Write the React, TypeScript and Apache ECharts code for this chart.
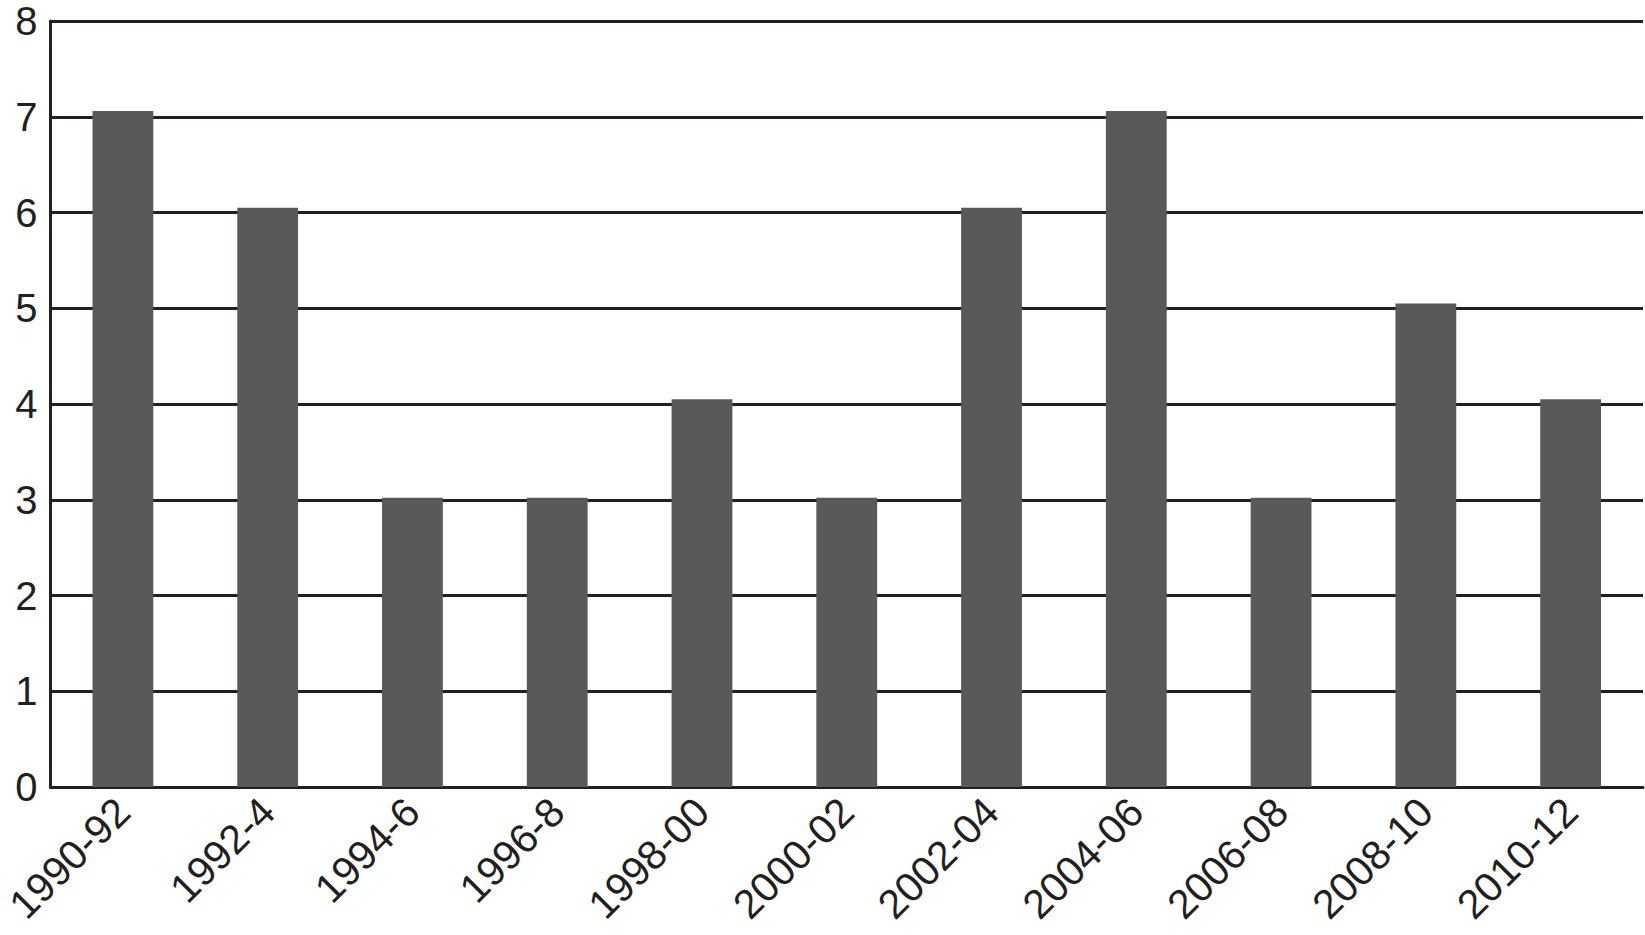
import React, { useEffect, useRef } from "react";
import * as echarts from "echarts";

const categories = [
  "1990-92", "1992-4", "1994-6", "1996-8", "1998-00", "2000-02",
  "2002-04", "2004-06", "2006-08", "2008-10", "2010-12",
];
const values = [7.06, 6.05, 3.02, 3.02, 4.05, 3.02, 6.05, 7.06, 3.02, 5.05, 4.05];
const yTicks = [0, 1, 2, 3, 4, 5, 6, 7, 8];

export default function App() {
  const ref = useRef<HTMLDivElement>(null);
  useEffect(() => {
    if (!ref.current) return;
    const chart = echarts.init(ref.current, null, { renderer: "svg" });
    const font = "'Liberation Sans', Arial, Helvetica, sans-serif";
    chart.setOption({
      animation: false,
      backgroundColor: "#ffffff",
      grid: { left: 48, right: 2, top: 21, bottom: 148, containLabel: false },
      xAxis: {
        type: "category",
        data: categories,
        axisLine: { show: true, lineStyle: { color: "#231f20", width: 3 } },
        axisTick: { show: false },
        axisLabel: {
          rotate: 45,
          margin: 18,
          interval: 0,
          color: "#231f20",
          fontSize: 41,
          fontFamily: font,
        },
      },
      yAxis: {
        type: "value",
        min: yTicks[0],
        max: yTicks[yTicks.length - 1],
        interval: 1,
        axisLine: { show: true, lineStyle: { color: "#231f20", width: 3 } },
        axisTick: { show: false },
        axisLabel: {
          margin: 13,
          color: "#231f20",
          fontSize: 40,
          lineHeight: 32,
          fontFamily: font,
        },
        splitLine: { show: true, lineStyle: { color: "#231f20", width: 3 } },
      },
      series: [
        {
          type: "bar",
          data: values,
          barWidth: "42%",
          itemStyle: { color: "#58595b" },
        },
      ],
    });
    return () => chart.dispose();
  }, []);
  return (
    <div
      ref={ref}
      style={{ position: "fixed", left: 0, top: 0, width: 1645, height: 935, background: "#fff" }}
    />
  );
}
